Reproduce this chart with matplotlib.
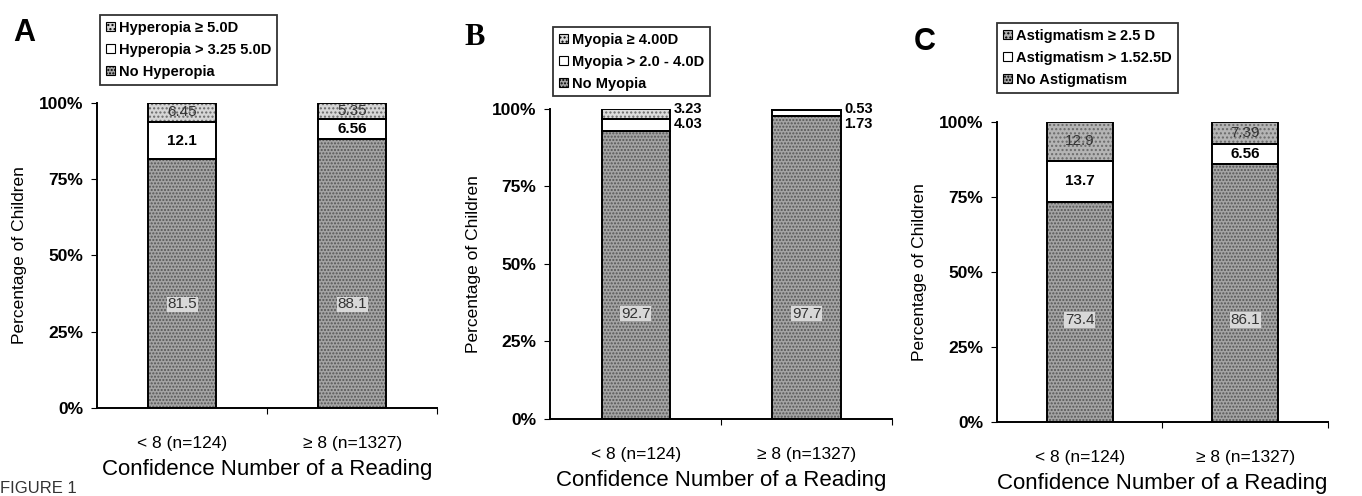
import numpy as np
import matplotlib.pyplot as plt
from matplotlib.patches import Patch

plt.rcParams['font.family'] = ['Liberation Sans', 'DejaVu Sans']

groups = ['< 8 (n=124)', '≥ 8 (n=1327)']

# panel A - hyperopia
hyp_none = [81.5, 88.1]
hyp_mid = [12.1, 6.56]
hyp_high = [6.45, 5.35]
hyp_labels = ['No Hyperopia', 'Hyperopia > 3.25 5.0D', 'Hyperopia ≥ 5.0D']

# panel B - myopia
myo_none = [92.7, 97.7]
myo_mid = [4.03, 1.73]
myo_high = [3.23, 0.53]
myo_labels = ['No Myopia', 'Myopia > 2.0 - 4.0D', 'Myopia ≥ 4.00D']

# panel C - astigmatism
ast_none = [73.4, 86.1]
ast_mid = [13.7, 6.56]
ast_high = [12.9, 7.39]
ast_labels = ['No Astigmatism', 'Astigmatism > 1.52.5D', 'Astigmatism ≥ 2.5 D']

fig = plt.figure(figsize=(13.62, 4.96), dpi=100)

panels = [
    dict(letter='A', rect=[0.0712, 0.177, 0.25, 0.616], data=(hyp_none, hyp_mid, hyp_high),
         labels=hyp_labels, top_col='#d6d6d6', outside=False,
         leg=(0.0735, 0.97), letter_xy=(0.010, 0.933), letter_font='Liberation Sans'),
    dict(letter='B', rect=[0.404, 0.155, 0.251, 0.626], data=(myo_none, myo_mid, myo_high),
         labels=myo_labels, top_col='#dcdcdc', outside=True,
         leg=(0.406, 0.946), letter_xy=(0.341, 0.925), letter_font='Liberation Serif'),
    dict(letter='C', rect=[0.732, 0.149, 0.243, 0.605], data=(ast_none, ast_mid, ast_high),
         labels=ast_labels, top_col='#b4b4b4', outside=False,
         leg=(0.732, 0.954), letter_xy=(0.671, 0.915), letter_font='Liberation Sans'),
]

x = np.arange(len(groups))
w = 0.4

for p in panels:
    ax = fig.add_axes(p['rect'])
    none, mid, high = p['data']
    none = np.array(none)
    mid = np.array(mid)
    high = np.array(high)

    # hatched fills
    ax.bar(x, none, w, color='#a4a4a4', hatch='.....', edgecolor='#555555', linewidth=0)
    ax.bar(x, mid, w, bottom=none, color='white', edgecolor='white', linewidth=0)
    ax.bar(x, high, w, bottom=none + mid, color=p['top_col'], hatch='....',
           edgecolor='#6a6a6a', linewidth=0)
    # outlines
    for vals, bot in [(none, 0), (mid, none), (high, none + mid)]:
        ax.bar(x, vals, w, bottom=bot, fill=False, edgecolor='black', linewidth=1.4)

    for i in range(len(x)):
        ax.text(x[i], 34, f'{none[i]:g}', ha='center', va='center', fontsize=11,
                color='#333333', bbox=dict(facecolor='#d8d8d8', edgecolor='none', pad=0.5))
        if p['outside']:
            ax.text(x[i] + w / 2 + 0.02, none[i] + mid[i] + high[i], f'{high[i]:.2f}',
                    ha='left', va='center', fontsize=10.5, fontweight='bold')
            ax.text(x[i] + w / 2 + 0.02, none[i] + mid[i] + high[i] - 4.8, f'{mid[i]:.2f}',
                    ha='left', va='center', fontsize=10.5, fontweight='bold')
        else:
            ax.text(x[i], none[i] + mid[i] / 2, f'{mid[i]:g}', ha='center', va='center',
                    fontsize=11, fontweight='bold')
            ax.text(x[i], none[i] + mid[i] + high[i] / 2, f'{high[i]:g}', ha='center',
                    va='center', fontsize=11, color='#333333')

    ax.set_xlim(-0.5, 1.5)
    ax.set_ylim(0, 100)
    ax.set_yticks([0, 25, 50, 75, 100])
    ax.set_yticklabels(['0%', '25%', '50%', '75%', '100%'], fontsize=12.5, fontweight='bold')
    ax.set_xticks([0.5, 1.5])
    ax.set_xticklabels(['', ''])
    ax.set_xticks(x, minor=True)
    ax.set_xticklabels(groups, minor=True, fontsize=12.5)
    ax.tick_params(axis='x', which='minor', length=0, pad=20)
    ax.tick_params(axis='x', which='major', length=4, direction='out')
    ax.tick_params(axis='y', length=4, direction='out', pad=6)
    for s in ['top', 'right']:
        ax.spines[s].set_visible(False)
    for s in ['left', 'bottom']:
        ax.spines[s].set_linewidth(1.4)
    ax.set_ylabel('Percentage of Children', fontsize=12.5, labelpad=8)
    ax.set_xlabel('Confidence Number of a Reading', fontsize=16, labelpad=6)

    handles = [
        Patch(facecolor=p['top_col'], hatch='....', edgecolor='black', linewidth=0.8),
        Patch(facecolor='white', edgecolor='black', linewidth=0.8),
        Patch(facecolor='#a4a4a4', hatch='.....', edgecolor='black', linewidth=0.8),
    ]
    leg = ax.legend(handles, p['labels'][::-1], loc='upper left', bbox_to_anchor=p['leg'],
                    bbox_transform=fig.transFigure, fontsize=10.5, frameon=True, fancybox=False,
                    handlelength=0.6, handleheight=0.6, handletextpad=0.3, labelspacing=0.55,
                    borderpad=0.4, borderaxespad=0)
    leg.get_frame().set_edgecolor('black')
    leg.get_frame().set_linewidth(1.3)
    for t in leg.get_texts():
        t.set_fontweight('bold')

    fig.text(p['letter_xy'][0], p['letter_xy'][1], p['letter'], fontsize=22,
             fontweight='bold', family=p['letter_font'], va='center')

fig.text(0.0, 0.0, 'FIGURE 1', fontsize=12, va='bottom', color='#333333')

fig.savefig('out.png', dpi=100)
